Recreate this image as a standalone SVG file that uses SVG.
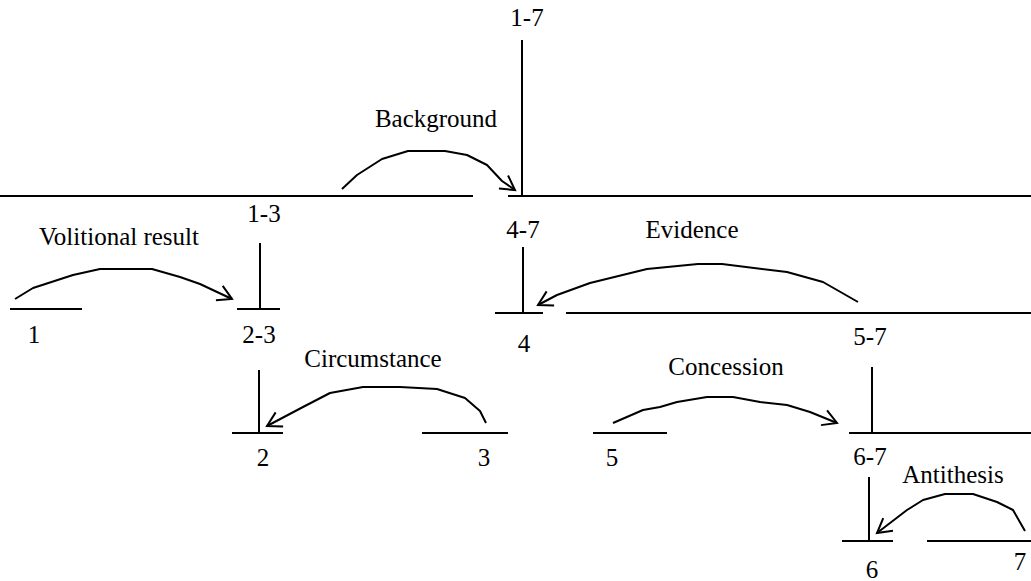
<svg xmlns="http://www.w3.org/2000/svg" width="1031" height="581" viewBox="0 0 1031 581">
<style>
.ln{stroke:#000;stroke-width:2;fill:none;stroke-linecap:butt}
.arc{stroke:#000;stroke-width:2;fill:none;stroke-linejoin:round;marker-end:url(#vee)}
text{font-family:"Liberation Serif","Times New Roman",serif;font-size:25px;fill:#000;text-anchor:middle}
</style>
<defs>
<marker id="vee" viewBox="-20 -12 24 24" refX="0" refY="0" markerWidth="24" markerHeight="24" markerUnits="userSpaceOnUse" orient="auto">
<path d="M-14,-8 L0,0 L-14,8" fill="none" stroke="#000" stroke-width="2"/>
</marker>
</defs>
<rect width="1031" height="581" fill="#fff"/>
<g id="span-1-7">
<text x="527" y="26">1-7</text>
<line class="ln" x1="522" y1="40" x2="522" y2="197"/>
</g>
<g id="span-1-3">
<line class="ln" x1="0" y1="196" x2="473" y2="196"/>
<text x="264" y="222">1-3</text>
<line class="ln" x1="260" y1="243" x2="260" y2="309"/>
<line class="ln" x1="237" y1="309" x2="280" y2="309"/>
<text x="259" y="343">2-3</text>
</g>
<g id="leaf-1">
<line class="ln" x1="10" y1="309" x2="82" y2="309"/>
<text x="34" y="343">1</text>
</g>
<g id="span-2-3">
<line class="ln" x1="259" y1="370" x2="259" y2="433"/>
</g>
<g id="leaf-2">
<line class="ln" x1="232" y1="433" x2="283" y2="433"/>
<text x="263" y="466">2</text>
</g>
<g id="leaf-3">
<line class="ln" x1="422" y1="433" x2="508" y2="433"/>
<text x="484" y="466">3</text>
</g>
<g id="span-4-7">
<line class="ln" x1="508" y1="196" x2="1031" y2="196"/>
<text x="523" y="238">4-7</text>
<line class="ln" x1="523" y1="247" x2="523" y2="313"/>
</g>
<g id="leaf-4">
<line class="ln" x1="495" y1="313" x2="543" y2="313"/>
<text x="524" y="352">4</text>
</g>
<g id="span-5-7">
<line class="ln" x1="566" y1="313" x2="1031" y2="313"/>
<text x="870" y="345">5-7</text>
<line class="ln" x1="872" y1="367" x2="872" y2="433"/>
</g>
<g id="leaf-5">
<line class="ln" x1="593" y1="433" x2="667" y2="433"/>
<text x="612" y="466">5</text>
</g>
<g id="span-6-7">
<line class="ln" x1="849" y1="433" x2="1031" y2="433"/>
<text x="870" y="465">6-7</text>
<line class="ln" x1="869" y1="477" x2="869" y2="541"/>
</g>
<g id="leaf-6">
<line class="ln" x1="842" y1="541" x2="893" y2="541"/>
<text x="872" y="578">6</text>
</g>
<g id="leaf-7">
<line class="ln" x1="927" y1="541" x2="1031" y2="541"/>
<text x="1020" y="570">7</text>
</g>
<g id="connectors">
<polyline class="arc" points="342,189 357,175 382,159 408,151 445,151 467,155 487,165 502,181 515,190"/>
<text x="436" y="127">Background</text>
<polyline class="arc" points="15,299 33,288 73,275 100,269 152,269 180,277 200,284 232,299"/>
<text x="119" y="245">Volitional result</text>
<polyline class="arc" points="858,302 823,282 787,272 722,264 698,264 647,269 590,283 557,295 538,305"/>
<text x="692" y="238">Evidence</text>
<polyline class="arc" points="486,423 480,411 465,398 437,389 400,387 363,387 330,393 303,407 267,426"/>
<text x="373" y="367">Circumstance</text>
<polyline class="arc" points="613,423 643,410 660,407 677,402 707,397 733,397 760,402 787,405 810,412 837,423"/>
<text x="726" y="375">Concession</text>
<polyline class="arc" points="1025,531 1013,510 997,502 973,494 945,494 923,500 907,510 877,533"/>
<text x="953" y="483">Antithesis</text>
</g>
</svg>
